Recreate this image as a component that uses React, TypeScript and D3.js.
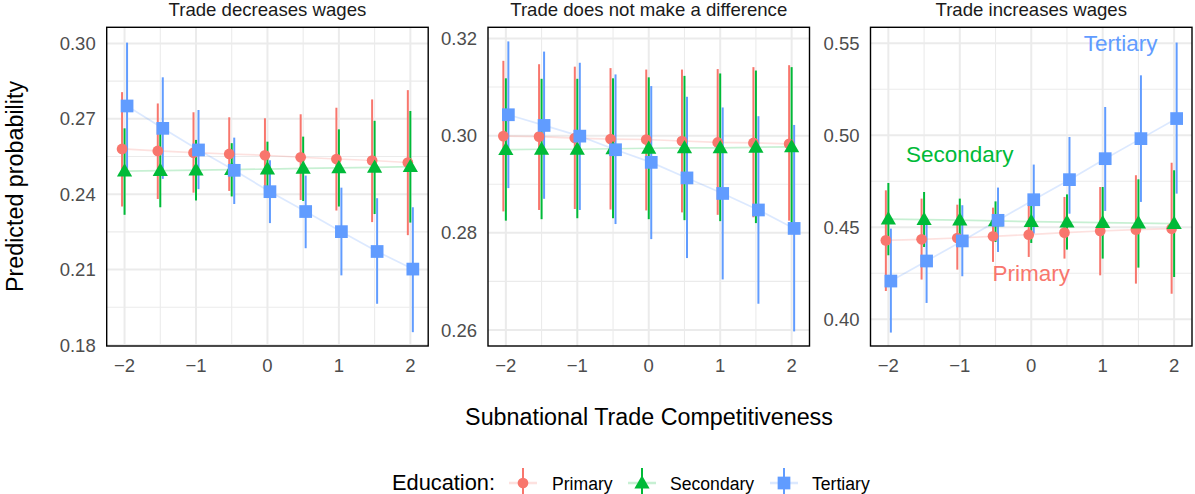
import React from 'react';
import * as d3 from 'd3';

// x values (subnational trade competitiveness)
const xs = [-2, -1.5, -1, -0.5, 0, 0.5, 1, 1.5, 2];

// [estimate, lower, upper] per x value
const decPrimary = [[0.258, 0.2351, 0.2806], [0.2572, 0.2381, 0.2761], [0.2565, 0.2406, 0.2726], [0.256, 0.2413, 0.2706], [0.2555, 0.241, 0.2702], [0.2547, 0.2377, 0.2718], [0.254, 0.2335, 0.2744], [0.2534, 0.2289, 0.2777], [0.2526, 0.2237, 0.2814]];
const decSecondary = [[0.2492, 0.2318, 0.2662], [0.2494, 0.2348, 0.2645], [0.2496, 0.2375, 0.2616], [0.2498, 0.2391, 0.2603], [0.25, 0.2395, 0.2609], [0.2503, 0.2373, 0.2629], [0.2505, 0.2351, 0.2658], [0.2507, 0.2321, 0.2692], [0.251, 0.2287, 0.2731]];
const decTertiary = [[0.2751, 0.2501, 0.3003], [0.2662, 0.2461, 0.2865], [0.2576, 0.242, 0.2735], [0.2495, 0.2361, 0.2625], [0.241, 0.2285, 0.2535], [0.2331, 0.2185, 0.2474], [0.2251, 0.2077, 0.2426], [0.2172, 0.1964, 0.2384], [0.2102, 0.1851, 0.2348]];

const noPrimary = [[0.2999, 0.2844, 0.3154], [0.2998, 0.2847, 0.3147], [0.2995, 0.2849, 0.3142], [0.2993, 0.2848, 0.3139], [0.2992, 0.2846, 0.3136], [0.2989, 0.2842, 0.3136], [0.2986, 0.2837, 0.3137], [0.2985, 0.2832, 0.3141], [0.2983, 0.2825, 0.3145]];
const noSecondary = [[0.2971, 0.2825, 0.3118], [0.2972, 0.2828, 0.3117], [0.2972, 0.283, 0.3117], [0.2973, 0.283, 0.3118], [0.2974, 0.2828, 0.312], [0.2975, 0.2826, 0.3123], [0.2975, 0.2824, 0.3128], [0.2976, 0.282, 0.3134], [0.2977, 0.2815, 0.3141]];
const noTertiary = [[0.3043, 0.2892, 0.3194], [0.3021, 0.287, 0.3173], [0.2999, 0.2847, 0.315], [0.2971, 0.2818, 0.3126], [0.2945, 0.2787, 0.3102], [0.2913, 0.2748, 0.308], [0.2881, 0.2704, 0.3058], [0.2847, 0.2654, 0.304], [0.2809, 0.2597, 0.3022]];

const incPrimary = [[0.4429, 0.4154, 0.4701], [0.4435, 0.4216, 0.4656], [0.4442, 0.427, 0.4623], [0.4451, 0.4312, 0.4607], [0.446, 0.4339, 0.462], [0.4471, 0.433, 0.4665], [0.448, 0.4239, 0.4719], [0.4487, 0.4194, 0.4783], [0.4493, 0.4139, 0.4851]];
const incSecondary = [[0.4545, 0.4348, 0.4741], [0.4542, 0.4393, 0.4692], [0.4539, 0.4429, 0.4656], [0.4535, 0.442, 0.4641], [0.4531, 0.4415, 0.462], [0.4528, 0.4379, 0.4679], [0.4525, 0.433, 0.4719], [0.4523, 0.4281, 0.4761], [0.452, 0.423, 0.481]];
const incTertiary = [[0.4208, 0.3928, 0.4493], [0.4317, 0.4089, 0.455], [0.4426, 0.4234, 0.462], [0.4538, 0.4366, 0.4716], [0.465, 0.4466, 0.4841], [0.4759, 0.4574, 0.4991], [0.4873, 0.4589, 0.5154], [0.4982, 0.4638, 0.5326], [0.5091, 0.4683, 0.5504]];

const panelTitles = ['Trade decreases wages', 'Trade does not make a difference', 'Trade increases wages'];
const yTicks1 = [0.18, 0.21, 0.24, 0.27, 0.30];
const yTicks2 = [0.26, 0.28, 0.30, 0.32];
const yTicks3 = [0.40, 0.45, 0.50, 0.55];
const xTicks = [-2, -1, 0, 1, 2];

const eduLevels = ['Primary', 'Secondary', 'Tertiary'];
const eduColors = ['#F8766D', '#00BA38', '#619CFF'];

// in-panel labels, third panel only
const annLabels = ['Tertiary', 'Secondary', 'Primary'];
const annX = [1.25, -1, 0];
const annY = [0.55, 0.49, 0.425];

const FONT = '"Liberation Sans", Arial, Helvetica, sans-serif';
const TOP = 27.3;
const BOTTOM = 346;
const PANEL_W = 321.5;
const panelLeft = [106.7, 488, 870.5];
const yDomains: [number, number][] = [[0.1796, 0.3064], [0.2567, 0.3223], [0.3855, 0.5587]];
const DODGE = [-0.035, 0, 0.035];

const symbolFor = (i: number) => {
  if (i === 0) return d3.symbol().type(d3.symbolCircle).size(90)();
  if (i === 1) return d3.symbol().type(d3.symbolTriangle).size(100)();
  return d3.symbol().type(d3.symbolSquare).size(162)();
};

const panels = [
  { series: [decPrimary, decSecondary, decTertiary], ticks: yTicks1, fmt: '.2f' },
  { series: [noPrimary, noSecondary, noTertiary], ticks: yTicks2, fmt: '.2f' },
  { series: [incPrimary, incSecondary, incTertiary], ticks: yTicks3, fmt: '.2f' },
];

const Panel: React.FC<{ idx: number }> = ({ idx }) => {
  const p = panels[idx];
  const left = panelLeft[idx];
  const x = d3.scaleLinear().domain([-2.25, 2.25]).range([left, left + PANEL_W]);
  const y = d3.scaleLinear().domain(yDomains[idx]).range([BOTTOM, TOP]);
  const fmt = d3.format(p.fmt);
  const step = p.ticks[1] - p.ticks[0];
  const minorY = p.ticks.map(t => t + step / 2).concat([p.ticks[0] - step / 2])
    .filter(v => v > yDomains[idx][0] && v < yDomains[idx][1]);
  const minorX = [-1.5, -0.5, 0.5, 1.5];
  const line = d3.line<number[]>().x(d => d[0]).y(d => d[1]);

  return (
    <g>
      {/* grid */}
      {minorY.map(v => (
        <line key={'my' + v} x1={left} x2={left + PANEL_W} y1={y(v)} y2={y(v)} stroke="#EBEBEB" strokeWidth={1.1} />
      ))}
      {minorX.map(v => (
        <line key={'mx' + v} x1={x(v)} x2={x(v)} y1={TOP} y2={BOTTOM} stroke="#EBEBEB" strokeWidth={1.1} />
      ))}
      {p.ticks.map(v => (
        <line key={'gy' + v} x1={left} x2={left + PANEL_W} y1={y(v)} y2={y(v)} stroke="#EBEBEB" strokeWidth={2} />
      ))}
      {xTicks.map(v => (
        <line key={'gx' + v} x1={x(v)} x2={x(v)} y1={TOP} y2={BOTTOM} stroke="#EBEBEB" strokeWidth={2} />
      ))}

      {/* connecting lines */}
      {p.series.map((s, i) => (
        <path key={'ln' + i}
          d={line(s.map((d, j) => [x(xs[j] + DODGE[i]), y(d[0])])) || ''}
          fill="none" stroke={eduColors[i]} strokeOpacity={0.22} strokeWidth={1.7} />
      ))}

      {/* ranges */}
      {p.series.map((s, i) => s.map((d, j) => (
        <line key={'r' + i + '-' + j} x1={x(xs[j] + DODGE[i])} x2={x(xs[j] + DODGE[i])}
          y1={y(d[1])} y2={y(d[2])} stroke={eduColors[i]} strokeWidth={2} />
      )))}

      {/* points */}
      {p.series.map((s, i) => s.map((d, j) => (
        <path key={'p' + i + '-' + j} d={symbolFor(i) || ''}
          transform={`translate(${x(xs[j] + DODGE[i])},${y(d[0]) + (i === 1 ? 1 : 0)})`}
          fill={eduColors[i]} />
      )))}

      {/* annotations */}
      {idx === 2 && annLabels.map((t, k) => (
        <text key={'a' + k} x={x(annX[k])} y={y(annY[k])} dy="0.36em" textAnchor="middle"
          fontFamily={FONT} fontSize={22.5} fill={eduColors[2 - k]}>{t}</text>
      ))}

      {/* border */}
      <rect x={left} y={TOP} width={PANEL_W} height={BOTTOM - TOP} fill="none" stroke="#000" strokeWidth={1.4} />

      {/* axes labels */}
      {p.ticks.map(v => (
        <text key={'ty' + v} x={left - 11} y={y(v)} dy="0.36em" textAnchor="end"
          fontFamily={FONT} fontSize={18.5} fill="#4D4D4D">{fmt(v)}</text>
      ))}
      {xTicks.map(v => (
        <text key={'tx' + v} x={x(v)} y={372} textAnchor="middle"
          fontFamily={FONT} fontSize={18.5} fill="#4D4D4D">{v < 0 ? '\u2212' + Math.abs(v) : String(v)}</text>
      ))}

      {/* strip title */}
      <text x={left + PANEL_W / 2} y={16} textAnchor="middle" fontFamily={FONT} fontSize={18.6} fill="#1A1A1A">
        {panelTitles[idx]}
      </text>
    </g>
  );
};

const legendKeyX = [523, 642, 784];
const legendTextX = [552, 670, 812];

const App: React.FC = () => {
  return (
    <svg width={1195} height={494} style={{ position: 'absolute', left: 0, top: 0, background: '#fff' }}>
      <rect x={0} y={0} width={1195} height={494} fill="#fff" />
      {[0, 1, 2].map(i => <Panel key={i} idx={i} />)}

      <text transform="translate(23,186.5) rotate(-90)" textAnchor="middle" fontFamily={FONT} fontSize={23.3} fill="#000">
        Predicted probability
      </text>
      <text x={649} y={425} textAnchor="middle" fontFamily={FONT} fontSize={23.3} fill="#000">
        Subnational Trade Competitiveness
      </text>

      {/* legend */}
      <text x={392} y={490} fontFamily={FONT} fontSize={21.8} fill="#000">Education:</text>
      {eduLevels.map((lab, i) => (
        <g key={lab}>
          <line x1={legendKeyX[i] - 14} x2={legendKeyX[i] + 14} y1={483} y2={483}
            stroke={eduColors[i]} strokeOpacity={0.22} strokeWidth={2.5} />
          <line x1={legendKeyX[i]} x2={legendKeyX[i]} y1={468} y2={498} stroke={eduColors[i]} strokeWidth={2} />
          <path d={symbolFor(i) || ''} transform={`translate(${legendKeyX[i]},${483 + (i === 1 ? 1 : 0)})`} fill={eduColors[i]} />
          <text x={legendTextX[i]} y={490} fontFamily={FONT} fontSize={17.6} fill="#000">{lab}</text>
        </g>
      ))}
    </svg>
  );
};

export default App;
